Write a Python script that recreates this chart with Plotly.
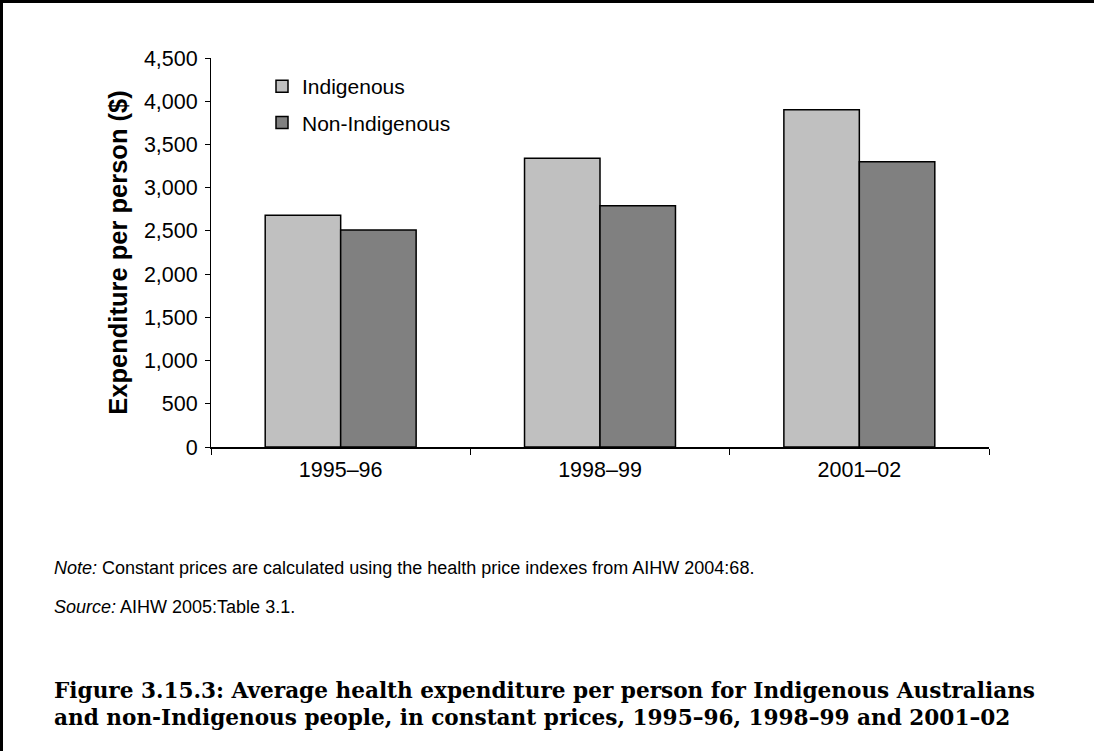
import plotly.graph_objects as go

# Average health expenditure per person, constant prices ($)
years = ["1995–96", "1998–99", "2001–02"]
indigenous = [2680, 3340, 3900]
non_indigenous = [2510, 2790, 3300]
y_ticks = [0, 500, 1000, 1500, 2000, 2500, 3000, 3500, 4000, 4500]
y_tick_labels = ["0", "500", "1,000", "1,500", "2,000", "2,500", "3,000", "3,500", "4,000", "4,500"]

W, H = 1094, 751
ML, MR, MT, MB = 211, 105, 58, 304
PW, PH = W - ML - MR, H - MT - MB


def px_x(px):
    return (px - ML) / PW


def px_y(py):
    return (H - MB - py) / PH


SANS = "Liberation Sans, Arial, sans-serif"
SERIF = "DejaVu Serif, serif"
TICK = 21.5

fig = go.Figure()
fig.add_trace(go.Bar(
    x=years, y=indigenous, name="Indigenous", legendgroup="a",
    marker=dict(color="#C0C0C0", line=dict(color="#000000", width=1.5)),
))
fig.add_trace(go.Bar(
    x=years, y=non_indigenous, name="Non-Indigenous", legendgroup="b",
    marker=dict(color="#808080", line=dict(color="#000000", width=1.5)),
))

fig.update_layout(
    width=W, height=H,
    margin=dict(l=ML, r=MR, t=MT, b=MB, pad=0),
    paper_bgcolor="white", plot_bgcolor="white",
    barmode="group", bargap=0.418, bargroupgap=0,
    font=dict(family=SANS, size=TICK, color="#000000"),
    showlegend=True,
    legend=dict(
        x=px_x(262), y=px_y(66), xanchor="left", yanchor="top",
        bgcolor="rgba(0,0,0,0)", borderwidth=0,
        font=dict(family=SANS, size=21, color="#000000"),
        traceorder="grouped", tracegroupgap=6,
    ),
    xaxis=dict(
        showline=True, linecolor="#000000", linewidth=2,
        ticks="outside", tickson="boundaries", ticklen=6, tickcolor="#000000", tickwidth=1,
        showgrid=False, zeroline=False,
        tickfont=dict(family=SANS, size=TICK, color="#000000"),
        ticklabelstandoff=2,
    ),
    yaxis=dict(
        range=[0, 4500], tickvals=y_ticks, ticktext=y_tick_labels,
        showline=True, linecolor="#000000", linewidth=1,
        ticks="outside", ticklen=5, tickcolor="#000000", tickwidth=1,
        showgrid=False, zeroline=False,
        tickfont=dict(family=SANS, size=TICK, color="#000000"),
        ticklabelstandoff=3,
        title=dict(text="<b>Expenditure per person ($)</b>", standoff=8,
                   font=dict(family=SANS, size=25.5, color="#000000")),
    ),
)

# Page frame lines (top and left)
fig.add_shape(type="line", xref="paper", yref="paper",
              x0=px_x(0), x1=px_x(W), y0=px_y(1.5), y1=px_y(1.5),
              line=dict(color="#000000", width=3))
fig.add_shape(type="line", xref="paper", yref="paper",
              x0=px_x(1.5), x1=px_x(1.5), y0=px_y(0), y1=px_y(H),
              line=dict(color="#000000", width=3))

notes = [
    ("<i>Note:</i> Constant prices are calculated using the health price indexes from AIHW 2004:68.", 568),
    ("<i>Source:</i> AIHW 2005:Table 3.1.", 607),
]
for text, yc in notes:
    fig.add_annotation(text=text, xref="paper", yref="paper",
                       x=px_x(52), y=px_y(yc), xanchor="left", yanchor="middle",
                       showarrow=False, font=dict(family=SANS, size=18, color="#000000"))

caption = [
    "<b>Figure 3.15.3: Average health expenditure per person for Indigenous Australians</b>",
    "<b>and non-Indigenous people, in constant prices, 1995–96, 1998–99 and 2001–02</b>",
]
for i, line in enumerate(caption):
    fig.add_annotation(text=line, xref="paper", yref="paper",
                       x=px_x(52), y=px_y(690 + 27 * i), xanchor="left", yanchor="middle",
                       showarrow=False, font=dict(family=SERIF, size=21.6, color="#000000"))

fig.write_html("out.html")
